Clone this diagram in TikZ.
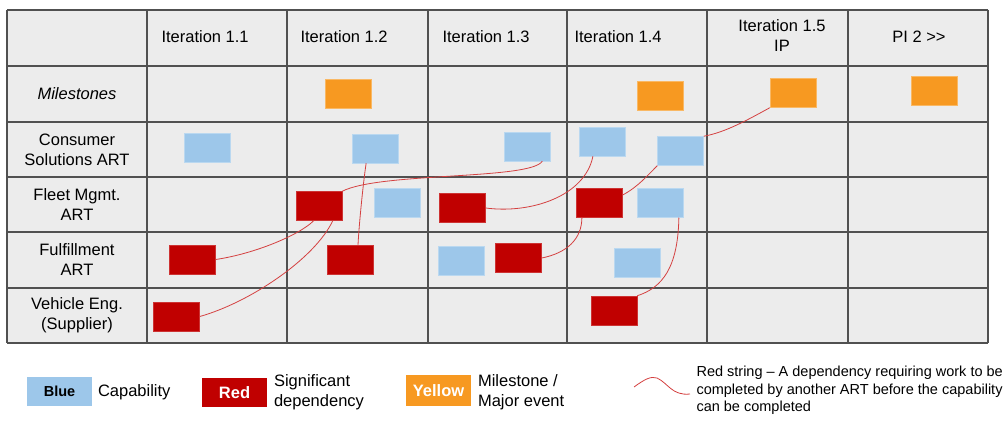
\documentclass[tikz,border=0pt]{standalone}
\usepackage{fontspec}
\setmainfont{Liberation Sans}
\usetikzlibrary{positioning}
\definecolor{capblue}{RGB}{157,199,234}
\definecolor{depred}{RGB}{192,0,0}
\definecolor{mileorange}{RGB}{247,153,33}
\definecolor{cellgray}{RGB}{236,236,236}
\definecolor{gridgray}{RGB}{80,80,80}
\definecolor{stringred}{RGB}{212,64,64}

\begin{document}
\begin{tikzpicture}[x=1pt,y=-1pt,
  card/.style={minimum width=46pt,minimum height=29pt,inner sep=0pt,line width=0.5pt},
  capbox/.style={card,fill=capblue,draw=capblue!70!white},
  depbox/.style={card,fill=depred,draw=depred!80!white},
  milebox/.style={card,fill=mileorange,draw=mileorange!70!white},
  keybox/.style={minimum width=65pt,minimum height=29pt,inner sep=0pt,font=\bfseries\fontsize{16.5}{20}\selectfont},
  lbl/.style={font=\fontsize{16.5}{20}\selectfont,align=center},
  redstring/.style={stringred,line width=0.8pt}]
  \useasboundingbox (0,0) rectangle (1007,428);
  \fill[cellgray] (7,10) rectangle (988,343);
  \foreach \x in {7,147,287,428,567,707,848,988} \draw[gridgray,line width=1.2pt] (\x,10) -- (\x,343);
  \foreach \y in {10,66,122,177,232,288,343} \draw[gridgray,line width=1.2pt] (7,\y) -- (988,\y);

  \node[lbl,anchor=west] (it1) at (158,37) {Iteration 1.1};
  \node[lbl,anchor=west] (it2) at (297,37) {Iteration 1.2};
  \node[lbl,anchor=west] (it3) at (439,37) {Iteration 1.3};
  \node[lbl,anchor=west] (it4) at (571,37) {Iteration 1.4};
  \node[lbl] (it5) at (782,36) {Iteration 1.5\\IP};
  \node[lbl] (pi2) at (919,37) {PI 2 >{}>};

  \node[lbl,font=\itshape\fontsize{16.5}{20}\selectfont] (rms) at (77,94) {Milestones};
  \node[lbl] (rcs) at (77,149.5) {Consumer\\Solutions ART};
  \node[lbl] (rfm) at (77,204.5) {Fleet Mgmt.\\ART};
  \node[lbl] (rff) at (77,260) {Fulfillment\\ART};
  \node[lbl] (rve) at (77,315.5) {Vehicle Eng.\\(Supplier)};

  \node[milebox] (ms2) at (348,94) {};
  \node[milebox] (ms4) at (660,95.5) {};
  \node[milebox] (ms5) at (793,93) {};
  \node[milebox] (ms6) at (934.5,90.5) {};

  \node[capbox] (cs1) at (207,147.5) {};
  \node[capbox] (cs2) at (375,148.5) {};
  \node[capbox] (cs3) at (527.5,146.5) {};
  \node[capbox] (cs4a) at (602.5,141.5) {};
  \node[capbox] (cs4b) at (680.5,151) {};

  \node[depbox] (fm2) at (319,206) {};
  \node[capbox] (fm2b) at (397,203) {};
  \node[depbox] (fm3) at (462.5,208) {};
  \node[depbox] (fm4) at (599.5,202.5) {};
  \node[capbox] (fm4b) at (660,203) {};

  \node[depbox] (ff1) at (192.5,259.5) {};
  \node[depbox] (ff2) at (350.5,259.5) {};
  \node[capbox] (ff3a) at (461,261) {};
  \node[depbox] (ff3b) at (518.5,258) {};
  \node[capbox] (ff4) at (637.5,262.5) {};

  \node[depbox] (ve1) at (176.5,316.5) {};
  \node[depbox] (ve4) at (614,310.5) {};

  \draw[redstring] (ff1.east) .. controls +(40,-6) and +(-14,14) .. (fm2.250);
  \draw[redstring] (ve1.east) .. controls +(50,-14) and +(-18,38) .. (fm2.-47);
  \draw[redstring] (fm2.north east) .. controls (380,172) and (530,180) .. (cs3.-45);
  \draw[redstring] (cs2.239) .. controls +(-3,20) and +(1,-20) .. (ff2.63);
  \draw[redstring] (fm3.east) .. controls +(45,6) and +(-8,40) .. (cs4a.237);
  \draw[redstring] (ff3b.east) .. controls +(25,-5) and +(0,22) .. (fm4.220);
  \draw[redstring] (fm4.18) .. controls +(15,-8) and +(-10,10) .. (cs4b.south west);
  \draw[redstring] (cs4b.north east) .. controls +(22,-4) and +(-22,12) .. (ms5.south west);
  \draw[redstring] (fm4b.-38) .. controls +(-1,50) and +(25,-8) .. (ve4.north east);

  \node[keybox,fill=capblue,font=\bfseries\fontsize{14.5}{17}\selectfont] (kblue) at (59.5,391.5) {Blue};
  \node[lbl,anchor=west] (kcap) at (94.5,392) {Capability};
  \node[keybox,fill=depred,text=white] (kred) at (234.5,392.5) {Red};
  \node[lbl,anchor=west,align=left] (kdep) at (270.5,392) {Significant\\dependency};
  \node[keybox,fill=mileorange,text=white,minimum height=31pt] (kyel) at (438.5,390.5) {Yellow};
  \node[lbl,anchor=west,align=left] (kmile) at (474.5,392) {Milestone /\\Major event};
  \draw[redstring] (634,387) .. controls (645,379) and (651,376) .. (657,378) .. controls (668,383) and (672,396) .. (690,394);
  \node[anchor=west,align=left,font=\fontsize{14.5}{17.5}\selectfont] (kstr) at (693,390.5) {Red string – A dependency requiring work to be\\completed by another ART before the capability\\can be completed};
\end{tikzpicture}
\end{document}
